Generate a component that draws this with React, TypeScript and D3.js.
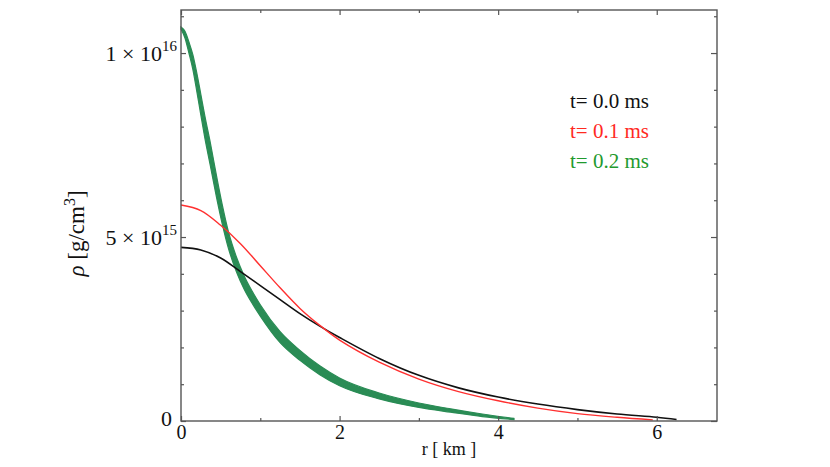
import { useEffect, useMemo, useRef } from "react";
import * as d3 from "d3";

const WIDTH = 830;
const HEIGHT = 467;
const MARGIN = { top: 10, right: 113, bottom: 46, left: 181 };

// density in units of 1e15 g/cm^3, radius in km
const radiusT0 = [0, 0.25, 0.5, 0.75, 1.0, 1.25, 1.5, 1.75, 2.0, 2.5, 3.0, 3.5, 4.0, 4.5, 5.0, 5.5, 6.0, 6.25];
const densityT0 = [4.72, 4.65, 4.43, 4.06, 3.68, 3.3, 2.92, 2.58, 2.27, 1.7, 1.24, 0.9, 0.65, 0.46, 0.31, 0.19, 0.1, 0.04];

const radiusT1 = [0, 0.25, 0.5, 0.75, 1.0, 1.25, 1.5, 1.75, 2.0, 2.5, 3.0, 3.5, 4.0, 4.5, 5.0, 5.5, 5.95];
const densityT1 = [5.87, 5.72, 5.32, 4.82, 4.22, 3.62, 3.06, 2.6, 2.2, 1.6, 1.14, 0.8, 0.55, 0.35, 0.2, 0.1, 0.03];

// t = 0.2 ms is drawn as a band between its low and high envelope
const radiusT2 = [0, 0.05, 0.1, 0.15, 0.2, 0.25, 0.3, 0.37, 0.45, 0.52, 0.6, 0.7, 0.8, 0.9, 1.0, 1.25, 1.5, 1.75, 2.0, 2.5, 3.0, 3.4, 3.8, 4.2];
const densityT2Low = [10.65, 10.41, 10.0, 9.55, 8.95, 8.32, 7.7, 6.94, 6.06, 5.36, 4.68, 4.05, 3.57, 3.19, 2.85, 2.13, 1.65, 1.26, 0.96, 0.6, 0.37, 0.24, 0.12, 0.04];
const densityT2High = [10.71, 10.59, 10.3, 9.95, 9.45, 8.88, 8.3, 7.56, 6.64, 5.88, 5.13, 4.45, 3.93, 3.52, 3.16, 2.43, 1.92, 1.5, 1.17, 0.76, 0.49, 0.33, 0.19, 0.07];

const legendLabels = ["t= 0.0 ms", "t= 0.1 ms", "t= 0.2 ms"];
const xMajorTicks = [0, 2, 4, 6];
const xMinorTicks = [1, 3, 5];
const yMajorTicks = [0, 5, 10];
const yMinorTicks = [1, 2, 3, 4, 6, 7, 8, 9, 11];
const yTickMantissa = ["0", "5", "1"];
const yTickExponent = ["", "15", "16"];

const FONT = "'Liberation Serif', 'Times New Roman', serif";
const AXIS_COLOR = "#555";

export default function App() {
  const axesRef = useRef<SVGGElement>(null);
  const boundsWidth = WIDTH - MARGIN.left - MARGIN.right;
  const boundsHeight = HEIGHT - MARGIN.top - MARGIN.bottom;

  const xScale = useMemo(() => d3.scaleLinear().domain([0, 6.76]).range([0, boundsWidth]), [boundsWidth]);
  const yScale = useMemo(() => d3.scaleLinear().domain([0, 11.17]).range([boundsHeight, 0]), [boundsHeight]);

  useEffect(() => {
    document.body.style.margin = "0";
  }, []);

  // ticks on all four sides, pointing inward
  useEffect(() => {
    const g = d3.select(axesRef.current);
    g.selectAll("*").remove();

    const addAxis = (gen: d3.Axis<d3.NumberValue>, transform: string) => {
      const a = g.append("g").attr("transform", transform).call(gen);
      a.select(".domain").remove();
      a.selectAll("line").attr("stroke", AXIS_COLOR).attr("stroke-width", 1.2);
      a.selectAll("text").attr("font-family", FONT).attr("font-size", 20).attr("fill", "#111");
    };

    addAxis(
      d3.axisBottom(xScale).tickValues(xMajorTicks).tickSize(-5).tickPadding(4).tickFormat(d3.format("d")),
      `translate(0,${boundsHeight})`
    );
    addAxis(d3.axisBottom(xScale).tickValues(xMinorTicks).tickSize(-3).tickFormat(() => ""), `translate(0,${boundsHeight})`);
    addAxis(d3.axisTop(xScale).tickValues(xMajorTicks).tickSize(-5).tickFormat(() => ""), "translate(0,0)");
    addAxis(d3.axisTop(xScale).tickValues(xMinorTicks).tickSize(-3).tickFormat(() => ""), "translate(0,0)");
    addAxis(d3.axisLeft(yScale).tickValues(yMajorTicks).tickSize(-5).tickFormat(() => ""), "translate(0,0)");
    addAxis(d3.axisLeft(yScale).tickValues(yMinorTicks).tickSize(-3).tickFormat(() => ""), "translate(0,0)");
    addAxis(d3.axisRight(yScale).tickValues(yMajorTicks).tickSize(-6).tickFormat(() => ""), `translate(${boundsWidth},0)`);
    addAxis(d3.axisRight(yScale).tickValues(yMinorTicks).tickSize(-3).tickFormat(() => ""), `translate(${boundsWidth},0)`);
  }, [xScale, yScale, boundsWidth, boundsHeight]);

  const line = d3
    .line<[number, number]>()
    .x((d) => xScale(d[0]))
    .y((d) => yScale(d[1]))
    .curve(d3.curveCatmullRom.alpha(0.5));

  const band = d3
    .area<number>()
    .x((_, i) => xScale(radiusT2[i]))
    .y0((_, i) => yScale(densityT2Low[i]))
    .y1((_, i) => yScale(densityT2High[i]))
    .curve(d3.curveMonotoneX);

  const pathT0 = line(radiusT0.map((r, i) => [r, densityT0[i]]));
  const pathT1 = line(radiusT1.map((r, i) => [r, densityT1[i]]));
  const pathT2 = band(radiusT2);

  const legendColors = ["#111", "#ff2a1f", "#1f9a2e"];

  return (
    <svg width={WIDTH} height={HEIGHT} style={{ display: "block", background: "#fff" }}>
      <g transform={`translate(${MARGIN.left},${MARGIN.top})`}>
        <path d={pathT2 ?? ""} fill="#2a8c55" stroke="#2a8c55" strokeWidth={1.2} />
        <path d={pathT0 ?? ""} fill="none" stroke="#111" strokeWidth={1.6} />
        <path d={pathT1 ?? ""} fill="none" stroke="#ff3030" strokeWidth={1.4} />

        <rect x={0} y={0} width={boundsWidth} height={boundsHeight} fill="none" stroke={AXIS_COLOR} strokeWidth={1.4} />
        <g ref={axesRef} />

        {yMajorTicks.map((v, i) => (
          <text
            key={v}
            x={yTickExponent[i] ? -4 : -9}
            y={yScale(v) + (yTickExponent[i] ? 8 : 5)}
            textAnchor="end"
            fontFamily={FONT}
            fontSize={22}
            fill="#111"
          >
            {yTickExponent[i] ? `${yTickMantissa[i]} × 10` : yTickMantissa[i]}
            {yTickExponent[i] && (
              <tspan dy={-10} fontSize={15}>
                {yTickExponent[i]}
              </tspan>
            )}
          </text>
        ))}

        {legendLabels.map((label, i) => (
          <text key={label} x={389} y={98 + i * 30} fontFamily={FONT} fontSize={21} fill={legendColors[i]}>
            {label}
          </text>
        ))}

        <text x={boundsWidth / 2} y={boundsHeight + 34} textAnchor="middle" fontFamily={FONT} fontSize={18} fill="#111">
          r [ km ]
        </text>
        <text
          transform={`translate(-97,${boundsHeight / 2 + 18}) rotate(-90)`}
          textAnchor="middle"
          fontFamily={FONT}
          fontSize={23}
          fill="#111"
        >
          <tspan fontStyle="italic">ρ</tspan> [g/cm
          <tspan dy={-9} fontSize={16}>
            3
          </tspan>
          <tspan dy={9}>]</tspan>
        </text>
      </g>
    </svg>
  );
}
